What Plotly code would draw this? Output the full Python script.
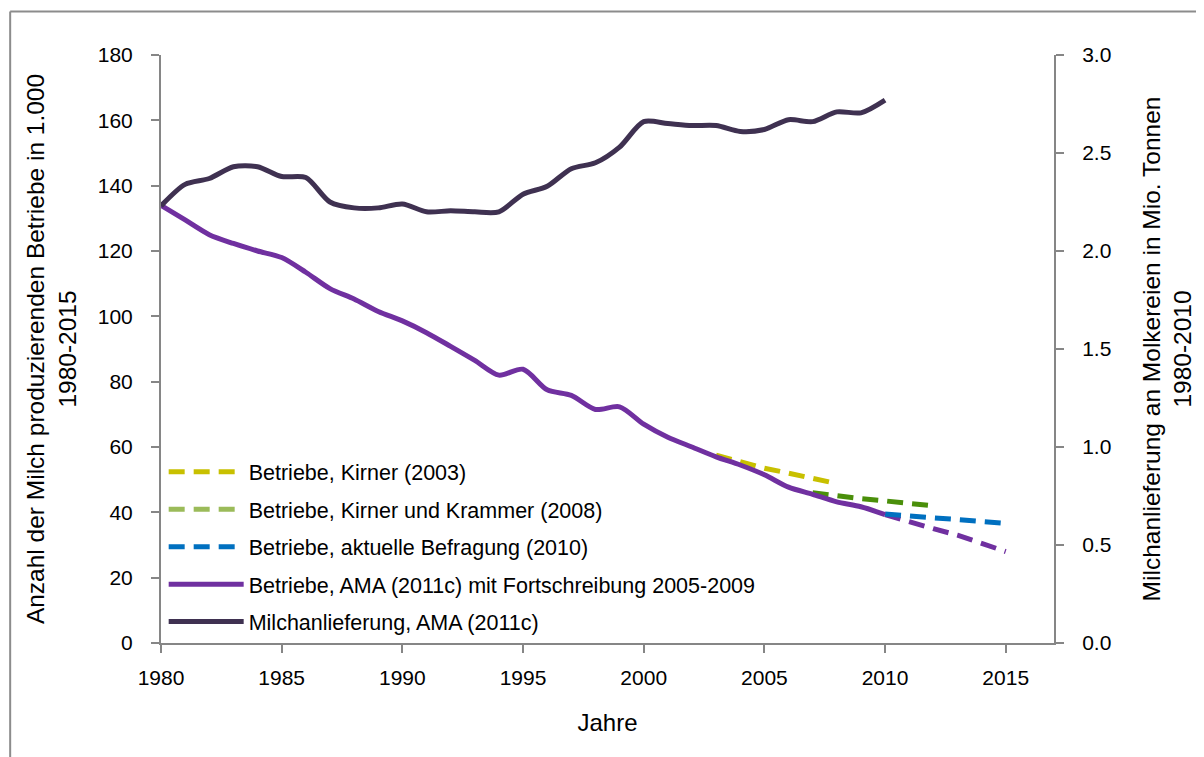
import plotly.graph_objects as go

# ---- data ----
years_hist = list(range(1980, 2011))
betriebe_ama = [134, 129.5, 125, 122.3, 120, 118, 113.5, 108.5, 105.3, 101.5,
                98.6, 95, 90.8, 86.5, 82, 83.8, 77.5, 75.8, 71.5, 72.3,
                67, 63, 60, 57, 54.5, 51.5, 47.7, 45.5, 43.2, 41.7, 39.3]
milch = [2.23, 2.34, 2.37, 2.43, 2.43, 2.38, 2.375, 2.25, 2.22, 2.22,
         2.24, 2.20, 2.205, 2.20, 2.20, 2.29, 2.33, 2.42, 2.45, 2.53,
         2.66, 2.65, 2.64, 2.64, 2.61, 2.62, 2.67, 2.66, 2.71, 2.705, 2.77]

years_proj_ama = [2010, 2011, 2012, 2013, 2014, 2015]
betriebe_ama_proj = [39.3, 37.0, 35.0, 33.0, 30.5, 28.0]

years_kirner = [2003, 2004, 2005, 2006, 2007, 2008]
betriebe_kirner = [57.5, 55.5, 53.5, 52.0, 50.4, 48.8]

years_kk = [2007, 2008, 2009, 2010, 2011, 2012]
betriebe_kk = [46.0, 45.0, 44.2, 43.5, 42.8, 42.0]

years_bef = [2010, 2011, 2012, 2013, 2014, 2015]
betriebe_bef = [39.5, 38.8, 38.3, 37.8, 37.2, 36.6]

x_ticks = [1980, 1985, 1990, 1995, 2000, 2005, 2010, 2015]

names = ["Betriebe, Kirner (2003)",
         "Betriebe, Kirner und Krammer (2008)",
         "Betriebe, aktuelle Befragung (2010)",
         "Betriebe, AMA (2011c) mit Fortschreibung 2005-2009",
         "Milchanlieferung, AMA (2011c)"]

# ---- styles ----
C_YEL = "#C8C000"
C_GRN = "#4A8F0A"
C_GRN_LEG = "#9BBB59"
C_BLU = "#0070C0"
C_PUR = "#7030A0"
C_DRK = "#3F3151"
FONT = "Liberation Sans, Arial, sans-serif"
DASH = "16px,9px"
LW = 5

fig = go.Figure()

fig.add_trace(go.Scatter(x=years_proj_ama, y=betriebe_ama_proj, mode="lines",
                         line=dict(color=C_PUR, width=LW, dash=DASH),
                         showlegend=False, hoverinfo="skip"))
fig.add_trace(go.Scatter(x=years_kirner, y=betriebe_kirner, mode="lines",
                         name=names[0], legendgroup="a", legendrank=1,
                         line=dict(color=C_YEL, width=LW, dash=DASH)))
fig.add_trace(go.Scatter(x=years_kk, y=betriebe_kk, mode="lines",
                         line=dict(color=C_GRN, width=LW, dash=DASH),
                         showlegend=False))
fig.add_trace(go.Scatter(x=[None], y=[None], mode="lines",
                         name=names[1], legendgroup="b", legendrank=2,
                         line=dict(color=C_GRN_LEG, width=LW, dash=DASH)))
fig.add_trace(go.Scatter(x=years_bef, y=betriebe_bef, mode="lines",
                         name=names[2], legendgroup="c", legendrank=3,
                         line=dict(color=C_BLU, width=LW, dash=DASH)))
fig.add_trace(go.Scatter(x=years_hist, y=betriebe_ama, mode="lines",
                         name=names[3], legendgroup="d", legendrank=4,
                         line=dict(color=C_PUR, width=LW, shape="spline", smoothing=0.8)))
fig.add_trace(go.Scatter(x=years_hist, y=milch, mode="lines", yaxis="y2",
                         name=names[4], legendgroup="e", legendrank=5,
                         line=dict(color=C_DRK, width=LW, shape="spline", smoothing=0.8)))

axis_common = dict(showgrid=False, zeroline=False, showline=True,
                   linecolor="#868686", linewidth=2, ticks="outside",
                   tickcolor="#868686", tickwidth=2, ticklen=8,
                   tickfont=dict(family=FONT, size=21, color="black"))

# plot area on screen: x 161..1058, y 55..643 (page has an 8px body margin)
fig.update_layout(
    width=1196, height=749,
    margin=dict(l=153, r=146, t=47, b=114),
    paper_bgcolor="white", plot_bgcolor="white",
    font=dict(family=FONT, color="black"),
    xaxis=dict(range=[1980, 2017], tickvals=x_ticks, ticklabelstandoff=7,
               title=dict(text="Jahre", font=dict(family=FONT, size=24), standoff=26),
               **axis_common),
    yaxis=dict(range=[0, 180], dtick=20, ticklabelstandoff=14,
               title=dict(text="Anzahl der Milch produzierenden Betriebe in 1.000<br>1980-2015",
                          font=dict(family=FONT, size=24.5), standoff=14),
               **axis_common),
    yaxis2=dict(range=[0, 3], dtick=0.5, tickformat=".1f", overlaying="y", side="right",
                ticklabelstandoff=14,
                title=dict(text="Milchanlieferung an Molkereien in Mio. Tonnen<br>1980-2010",
                           font=dict(family=FONT, size=24.5), standoff=32),
                **axis_common),
    legend=dict(x=0.003, y=0.326, xanchor="left", yanchor="top",
                bgcolor="rgba(0,0,0,0)", borderwidth=0,
                font=dict(family=FONT, size=21.5, color="black"),
                tracegroupgap=6.5, itemwidth=75, traceorder="grouped"),
    shapes=[
        dict(type="line", xref="paper", yref="paper",
             x0=(9.5 - 161) / 897, x1=1.3, y0=(643 - 11.5) / 588, y1=(643 - 11.5) / 588,
             line=dict(color="#8C8C8C", width=2)),
        dict(type="line", xref="paper", yref="paper",
             x0=(9.5 - 161) / 897, x1=(9.5 - 161) / 897, y0=(643 - 11.5) / 588, y1=-0.3,
             line=dict(color="#8C8C8C", width=2)),
    ],
)

fig.write_html("out.html")
